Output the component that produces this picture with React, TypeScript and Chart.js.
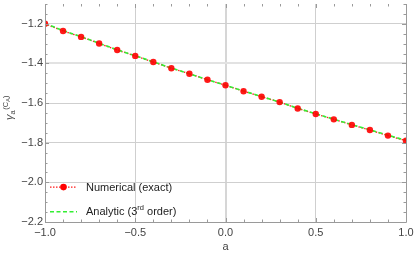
import React, { useEffect, useRef } from "react";
import { Chart, registerables } from "chart.js";

Chart.register(...registerables);

const aValues = [-1.0, -0.9, -0.8, -0.7, -0.6, -0.5, -0.4, -0.3, -0.2, -0.1, 0.0, 0.1, 0.2, 0.3, 0.4, 0.5, 0.6, 0.7, 0.8, 0.9, 1.0];
const numerical = [-1.200, -1.236, -1.266, -1.299, -1.332, -1.362, -1.393, -1.424, -1.452, -1.482, -1.510, -1.540, -1.568, -1.595, -1.627, -1.655, -1.682, -1.710, -1.736, -1.764, -1.790];
const analytic = [-1.198, -1.234, -1.265, -1.298, -1.331, -1.361, -1.392, -1.423, -1.452, -1.482, -1.510, -1.539, -1.567, -1.595, -1.626, -1.654, -1.681, -1.709, -1.735, -1.762, -1.788];
const xTicks = [-1.0, -0.5, 0.0, 0.5, 1.0];
const yTicks = [-2.2, -2.0, -1.8, -1.6, -1.4, -1.2];
const legendLabels = ["Numerical (exact)", "Analytic (3", "rd", " order)"];
const xTitle = "a";

const FONT = "'Liberation Sans', Arial, sans-serif";
const fmt = (v: number) => v.toFixed(1).replace("-", "\u2212");

const decorPlugin = {
  id: "decor",
  afterDatasetsDraw(chart: any) {
    const { ctx, chartArea, scales } = chart;
    const xs = scales.x;
    const ys = scales.y;
    const { left, right, top, bottom } = chartArea;
    ctx.save();
    ctx.strokeStyle = "#9a9a9a";
    ctx.lineWidth = 1;
    ctx.beginPath();
    ctx.moveTo(left + 0.5, top);
    ctx.lineTo(left + 0.5, bottom + 0.5);
    ctx.lineTo(right + 0.5, bottom + 0.5);
    ctx.lineTo(right + 0.5, top);
    ctx.stroke();
    ctx.beginPath();
    for (let i = -10; i <= 10; i++) {
      const v = i / 10;
      const major = i % 5 === 0;
      const len = major ? 4 : 2.5;
      const px = Math.round(xs.getPixelForValue(v)) + 0.5;
      ctx.moveTo(px, bottom);
      ctx.lineTo(px, bottom - len);
      ctx.moveTo(px, top);
      ctx.lineTo(px, top + len);
    }
    for (let i = -44; i <= -22; i++) {
      const v = i / 20;
      const major = i % 4 === 0;
      const len = major ? 4 : 2.5;
      const py = Math.round(ys.getPixelForValue(v)) + 0.5;
      if (py < top) continue;
      ctx.moveTo(left, py);
      ctx.lineTo(left + len, py);
      ctx.moveTo(right, py);
      ctx.lineTo(right - len, py);
    }
    ctx.stroke();

    const lx0 = left + 5;
    const lx1 = left + 32;
    const ly1 = ys.getPixelForValue(-2.024);
    const ly2 = ys.getPixelForValue(-2.148);
    ctx.strokeStyle = "#ff1a1a";
    ctx.lineWidth = 1.3;
    ctx.setLineDash([1.5, 1.5]);
    ctx.beginPath();
    ctx.moveTo(lx0, ly1);
    ctx.lineTo(lx1, ly1);
    ctx.stroke();
    ctx.setLineDash([4, 2.5]);
    ctx.strokeStyle = "#33ee33";
    ctx.lineWidth = 1.5;
    ctx.beginPath();
    ctx.moveTo(lx0, ly2);
    ctx.lineTo(lx1, ly2);
    ctx.stroke();
    ctx.setLineDash([]);
    ctx.fillStyle = "#ff0000";
    ctx.beginPath();
    ctx.arc((lx0 + lx1) / 2, ly1, 3.3, 0, Math.PI * 2);
    ctx.fill();

    ctx.fillStyle = "#222";
    ctx.textBaseline = "middle";
    ctx.textAlign = "left";
    ctx.font = `11px ${FONT}`;
    const tx = lx1 + 9;
    ctx.fillText(legendLabels[0], tx, ly1 + 0.5);
    ctx.fillText(legendLabels[1], tx, ly2 + 0.5);
    const w = ctx.measureText(legendLabels[1]).width;
    ctx.font = `7.5px ${FONT}`;
    ctx.fillText(legendLabels[2], tx + w, ly2 - 3.5);
    const w2 = ctx.measureText(legendLabels[2]).width;
    ctx.font = `11px ${FONT}`;
    ctx.fillText(legendLabels[3], tx + w + w2, ly2 + 0.5);

    ctx.fillStyle = "#444";
    ctx.textAlign = "center";
    ctx.font = `11px ${FONT}`;
    ctx.fillText(xTitle, (left + right) / 2, bottom + 25);

    ctx.translate(13, (top + bottom) / 2 - 6);
    ctx.rotate(-Math.PI / 2);
    ctx.textAlign = "left";
    ctx.textBaseline = "alphabetic";
    let x = -13;
    ctx.font = `italic 11px ${FONT}`;
    ctx.fillText("\u03B3", x, 0);
    x += ctx.measureText("\u03B3").width;
    ctx.font = `7.5px ${FONT}`;
    ctx.fillText("a", x, 2);
    x += ctx.measureText("a").width + 0.5;
    ctx.fillText("(C", x, -5);
    x += ctx.measureText("(C").width;
    ctx.font = `6px ${FONT}`;
    ctx.fillText("A", x, -3.5);
    x += ctx.measureText("A").width;
    ctx.font = `7.5px ${FONT}`;
    ctx.fillText(")", x, -5);
    ctx.restore();
  },
};

export default function App() {
  const ref = useRef<HTMLCanvasElement | null>(null);
  useEffect(() => {
    if (!ref.current) return;
    const numPts = aValues.map((x, i) => ({ x, y: numerical[i] }));
    const anaPts = aValues.map((x, i) => ({ x, y: analytic[i] }));
    const chart = new Chart(ref.current, {
      type: "line",
      data: {
        datasets: [
          {
            data: numPts,
            borderColor: "#ff2020",
            borderWidth: 1.3,
            borderDash: [1.5, 1.5],
            pointRadius: 0,
            order: 3,
          },
          {
            data: anaPts,
            borderColor: "#33ee33",
            borderWidth: 1.6,
            borderDash: [4, 2.5],
            pointRadius: 0,
            order: 2,
          },
          {
            data: numPts,
            showLine: false,
            pointRadius: 3.2,
            pointBackgroundColor: "rgba(255,0,0,0.9)",
            pointBorderWidth: 0,
            order: 1,
          },
        ],
      },
      options: {
        animation: false,
        responsive: false,
        maintainAspectRatio: false,
        layout: { padding: { top: 0, right: 9, left: 0, bottom: 0 } },
        plugins: { legend: { display: false }, tooltip: { enabled: false } },
        scales: {
          x: {
            type: "linear",
            min: -1,
            max: 1,
            afterBuildTicks: (s: any) => {
              s.ticks = xTicks.map((v) => ({ value: v }));
            },
            afterFit: (s: any) => {
              s.height = 34;
              s.paddingLeft = 0;
              s.paddingRight = 0;
            },
            ticks: {
              callback: (v: any) => fmt(Number(v)),
              color: "#444",
              font: { family: FONT, size: 11 },
              padding: 4,
              maxRotation: 0,
              autoSkip: false,
            },
            grid: {
              drawTicks: false,
              color: (c: any) => {
                const v = c.tick ? c.tick.value : 0;
                if (Math.abs(v) > 0.99) return "rgba(0,0,0,0)";
                if (Math.abs(v) < 1e-6) return "#d6d6d6";
                return "#cfcfcf";
              },
              lineWidth: (c: any) => (c.tick && Math.abs(c.tick.value) < 1e-6 ? 2 : 1),
            },
            border: { display: false },
          },
          y: {
            type: "linear",
            min: -2.2,
            max: -1.1,
            afterBuildTicks: (s: any) => {
              s.ticks = yTicks.map((v) => ({ value: v }));
            },
            afterFit: (s: any) => {
              s.width = 45;
              s.paddingTop = 0;
              s.paddingBottom = 0;
            },
            ticks: {
              callback: (v: any) => fmt(Number(v)),
              color: "#444",
              font: { family: FONT, size: 11 },
              padding: 2,
              autoSkip: false,
            },
            grid: {
              drawTicks: false,
              color: (c: any) => {
                const v = c.tick ? c.tick.value : 0;
                if (v < -2.19) return "rgba(0,0,0,0)";
                if (Math.abs(v + 1.4) < 1e-6) return "#e2e2e2";
                return "#cfcfcf";
              },
              lineWidth: (c: any) => (c.tick && Math.abs(c.tick.value + 1.4) < 1e-6 ? 2 : 1),
            },
            border: { display: false },
          },
        },
      },
      plugins: [decorPlugin],
    });
    return () => chart.destroy();
  }, []);
  return (
    <div style={{ position: "fixed", left: 0, top: 0, width: 415, height: 256, background: "#fff" }}>
      <canvas ref={ref} width={415} height={256} style={{ width: 415, height: 256 }} />
    </div>
  );
}
